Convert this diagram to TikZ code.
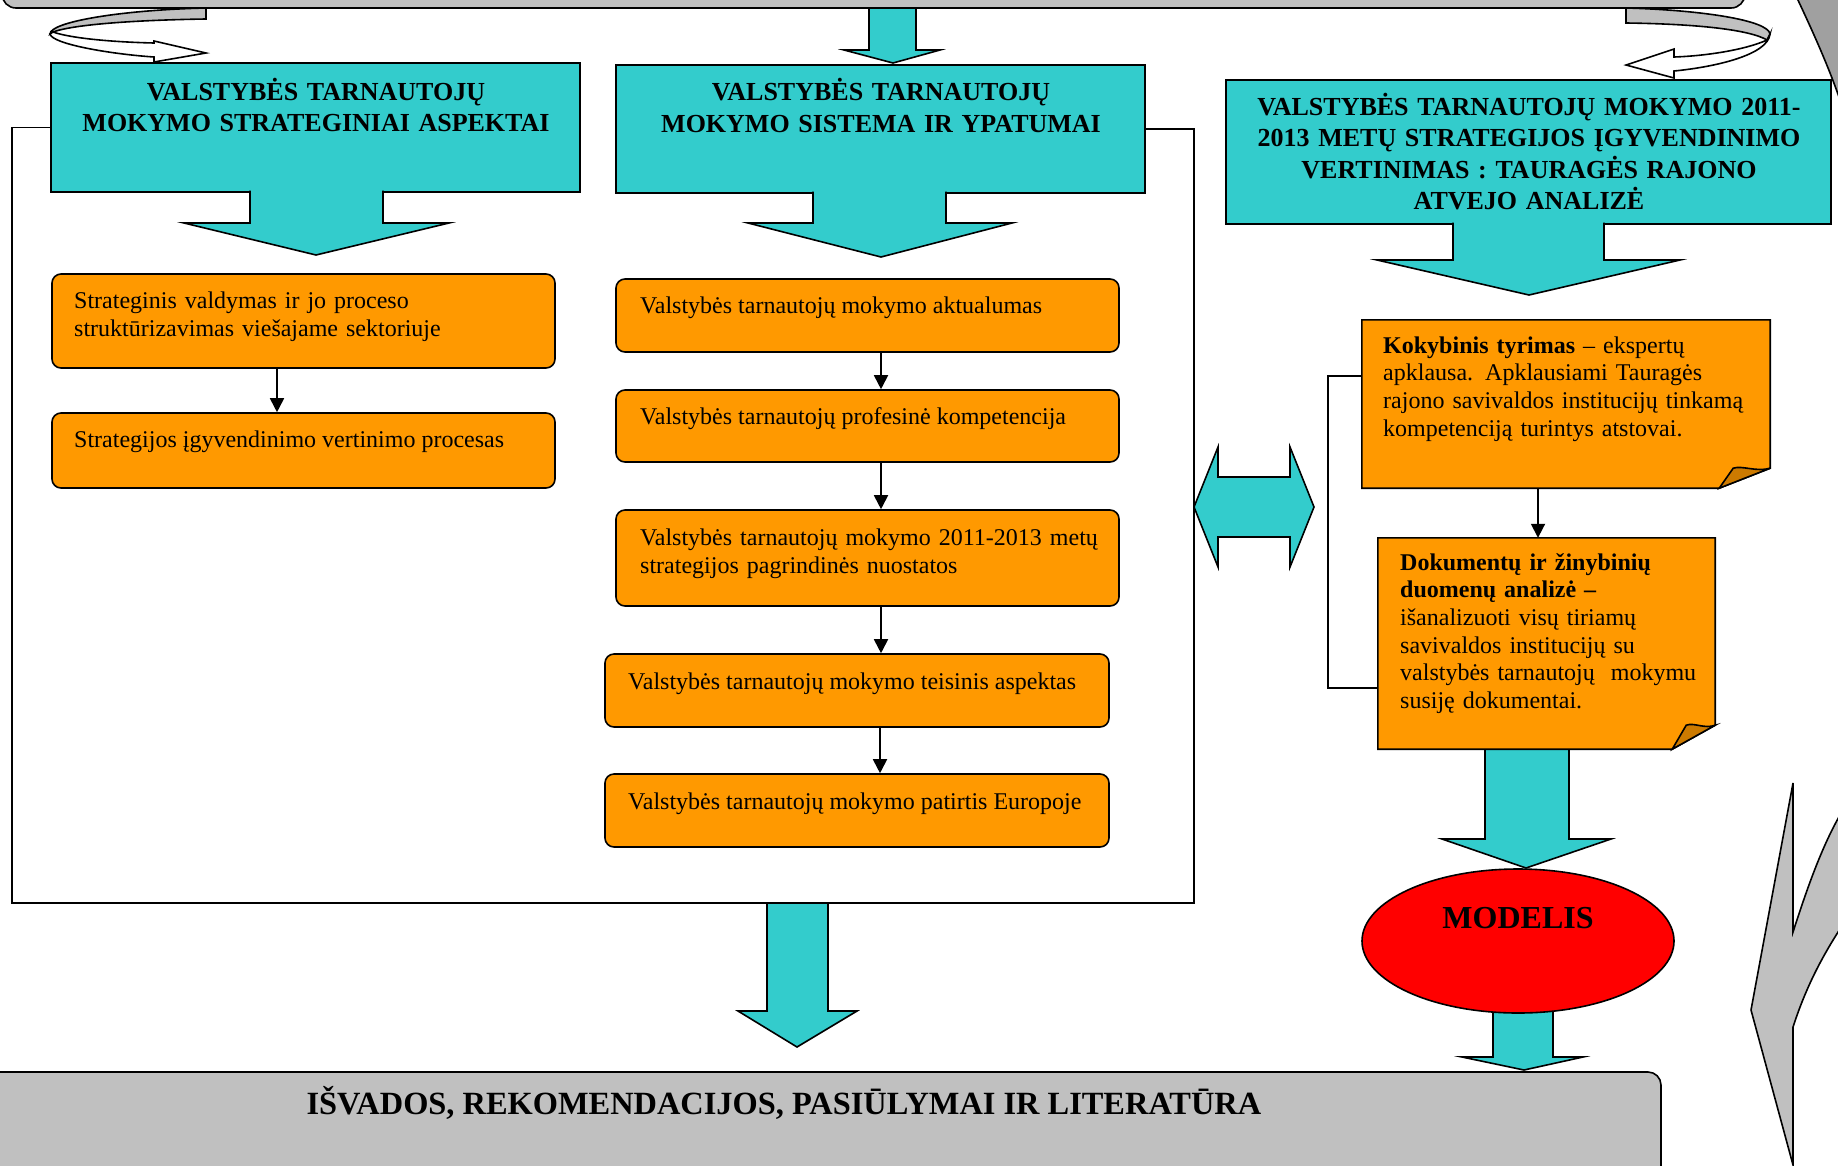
\documentclass[tikz,border=0pt]{standalone}
\usepackage{fontspec}
\setmainfont{Liberation Serif}
\usetikzlibrary{shapes.geometric,arrows.meta}
\definecolor{cy}{RGB}{51,204,204}
\definecolor{org}{RGB}{255,153,0}
\definecolor{fold}{RGB}{204,122,0}
\definecolor{gr}{RGB}{192,192,192}
\definecolor{grd}{RGB}{160,160,160}
\newcommand{\bdarrow}[8]{%
 \fill[cy] (#1,#5) -- (#1,#6) -- (#3,#6) -- (#7,#8) -- (#4,#6) -- (#2,#6) -- (#2,#5) -- cycle;
 \draw[ol] (#1,#5) -- (#1,#6) -- (#3,#6) -- (#7,#8) -- (#4,#6) -- (#2,#6) -- (#2,#5);}
\begin{document}
\begin{tikzpicture}[x=1pt,y=-1pt,line join=miter,
  ol/.style={draw=black,line width=1.6pt},
  hbox/.style={draw=black,line width=1.6pt,fill=cy,inner sep=0pt},
  htext/.style={font=\bfseries\fontsize{26}{31.5}\selectfont,align=center,inner sep=0pt,anchor=base},
  obox/.style={draw=black,line width=1.6pt,fill=org,rounded corners=9pt,inner sep=0pt},
  otext/.style={font=\fontsize{24}{28.5}\selectfont,align=left,inner sep=0pt,anchor=base west},
  ntext/.style={font=\fontsize{24}{27.7}\selectfont,align=left,inner sep=0pt,anchor=base west},
  conn/.style={draw=black,line width=1.8pt,-{Triangle[width=14pt,length=14pt]}},
  bline/.style={draw=black,line width=1.4pt},
  plain/.style={inner sep=0pt},
]
\useasboundingbox (0,0) rectangle (1838,1165);
\fill[white] (0,0) rectangle (1838,1165);

% top centre arrow (from bar)
\bdarrow{869}{916}{844}{940}{0}{50}{893}{63}
% top bar
\node[draw=black,line width=1.6pt,fill=gr,rounded corners=14pt,minimum width=1743pt,minimum height=68pt,plain] (topbar) at (873.5,-26) {};

% left ribbon arrow
\filldraw[fill=gr,ol] (206,8) -- (206,19) .. controls (140,20) and (75,24) .. (53,32) -- (50,34) .. controls (50,22) and (120,10) .. (206,8) -- cycle;
\filldraw[fill=white,ol] (53,32) .. controls (70,38) and (110,42) .. (154,43) -- (154,41) -- (206,53) -- (154,62) -- (154,57) .. controls (110,54) and (52,44) .. (50,34) -- cycle;
% right ribbon arrow
\filldraw[fill=gr,ol] (1626,8) -- (1626,23) .. controls (1700,24) and (1750,30) .. (1767,40) -- (1770,34) .. controls (1768,20) and (1700,10) .. (1626,8) -- cycle;
\filldraw[fill=white,ol] (1767,40) .. controls (1745,50) and (1705,56) .. (1674,57) -- (1674,49) -- (1626,65) -- (1674,78) -- (1674,71) .. controls (1715,67) and (1768,55) .. (1770,34) -- cycle;

% big gray arc (top right)
\filldraw[fill=grd,ol] (1797,-2) .. controls (1812,30) and (1828,65) .. (1840,100) -- (1840,-2) -- cycle;

% header boxes
\node[hbox,minimum width=529pt,minimum height=129pt] (h1) at (315.5,127.5) {};
\node[htext,text width=528pt] (h1t) at (316,100) {VALSTYBĖS TARNAUTOJŲ\\MOKYMO STRATEGINIAI ASPEKTAI};
\bdarrow{250}{383}{184}{449}{190.5}{223}{316}{255}

\node[hbox,minimum width=529pt,minimum height=128pt] (h2) at (880.5,129) {};
\node[htext,text width=528pt] (h2t) at (881,100.5) {VALSTYBĖS TARNAUTOJŲ\\MOKYMO SISTEMA IR YPATUMAI};
\bdarrow{813}{946}{748}{1012}{191.5}{223}{881}{257}

\node[hbox,minimum width=605pt,minimum height=144pt] (h3) at (1528.5,152) {};
\node[htext,text width=600pt] (h3t) at (1529,115) {VALSTYBĖS TARNAUTOJŲ MOKYMO 2011-\\2013 METŲ STRATEGIJOS ĮGYVENDINIMO\\VERTINIMAS : TAURAGĖS RAJONO\\ATVEJO ANALIZĖ};
\bdarrow{1453}{1604}{1377}{1680}{222.5}{260}{1529}{295}

% column 1
\node[obox,minimum width=503pt,minimum height=94pt] (a) at (303.5,321) {};
\node[otext,text width=480pt] (at) at (74,308) {Strateginis valdymas ir jo proceso\\struktūrizavimas viešajame sektoriuje};
\node[obox,minimum width=503pt,minimum height=75pt] (b) at (303.5,450.5) {};
\node[otext] (bt) at (74,447) {Strategijos įgyvendinimo vertinimo procesas};
\draw[conn] ([xshift=-26.5pt]a.south) -- ([xshift=-26.5pt]b.north);

% column 2
\node[obox,minimum width=503pt,minimum height=73pt] (c) at (867.5,315.5) {};
\node[otext] (ct) at (640,313) {Valstybės tarnautojų mokymo aktualumas};
\node[obox,minimum width=503pt,minimum height=72pt] (d) at (867.5,426) {};
\node[otext] (dt) at (640,424) {Valstybės tarnautojų profesinė kompetencija};
\node[obox,minimum width=503pt,minimum height=96pt] (e) at (867.5,558) {};
\node[otext,text width=480pt] (et) at (640,545) {Valstybės tarnautojų mokymo 2011-2013 metų\\strategijos pagrindinės nuostatos};
\node[obox,minimum width=504pt,minimum height=73pt] (f) at (857,690.5) {};
\node[otext] (ft) at (628,689) {Valstybės tarnautojų mokymo teisinis aspektas};
\node[obox,minimum width=504pt,minimum height=73pt] (g) at (857,810.5) {};
\node[otext] (gt) at (628,809) {Valstybės tarnautojų mokymo patirtis Europoje};
\draw[conn] ([xshift=13.5pt]c.south) -- ([xshift=13.5pt]d.north);
\draw[conn] ([xshift=13.5pt]d.south) -- ([xshift=13.5pt]e.north);
\draw[conn] ([xshift=13.5pt]e.south) -- ([xshift=24pt]f.north);
\draw[conn] ([xshift=23pt]f.south) -- ([xshift=23pt]g.north);

% bracket round columns 1-2 and its arrow
\bdarrow{767}{828}{738}{857}{903}{1011}{797}{1047}
\coordinate (bl) at (12,903);
\coordinate (br) at (1194,903);
\draw[bline] (h1.west) -| (bl) -- (br) |- (h2.east);

% double arrow
\filldraw[fill=cy,ol] (1194,507) -- (1218,447) -- (1218,477) -- (1290,477) -- (1290,447) -- (1314,507) -- (1290,567) -- (1290,537) -- (1218,537) -- (1218,567) -- cycle;

% arrow note I -> model
\bdarrow{1485}{1569}{1442}{1611}{745}{839}{1526}{868}

% note H
\node[plain,minimum width=408pt,minimum height=168pt] (nh) at (1566,404) {};
\filldraw[fill=org,ol] (nh.north west) -- (nh.north east) -- ([yshift=20pt]nh.south east) -- ([xshift=-51pt]nh.south east) -- (nh.south west) -- cycle;
\filldraw[fill=fold,ol] ([xshift=-51pt]nh.south east) -- ([xshift=-37pt,yshift=20pt]nh.south east) .. controls ([xshift=-28pt,yshift=23pt]nh.south east) and ([xshift=-14pt,yshift=16pt]nh.south east) .. ([yshift=20pt]nh.south east) -- cycle;
\node[ntext,text width=385pt] (nht) at (1383,353) {\textbf{Kokybinis tyrimas} – ekspertų\\apklausa. Apklausiami Tauragės\\rajono savivaldos institucijų tinkamą\\kompetenciją turintys atstovai.};

% note I
\node[plain,minimum width=337pt,minimum height=211pt] (ni) at (1546.5,643.5) {};
\filldraw[fill=org,ol] (ni.north west) -- (ni.north east) -- ([yshift=24pt]ni.south east) -- ([xshift=-43pt]ni.south east) -- (ni.south west) -- cycle;
\filldraw[fill=fold,ol] ([xshift=-43pt]ni.south east) -- ([xshift=-29pt,yshift=24pt]ni.south east) .. controls ([xshift=-21pt,yshift=27pt]ni.south east) and ([xshift=-11pt,yshift=20pt]ni.south east) .. ([yshift=24pt]ni.south east) -- cycle;
\node[ntext,text width=312pt] (nit) at (1400,570) {\textbf{Dokumentų ir žinybinių}\\\textbf{duomenų analizė –}\\išanalizuoti visų tiriamų\\savivaldos institucijų su\\valstybės tarnautojų\ \ mokymu\\susiję dokumentai.};

\draw[conn] ([xshift=-28pt]nh.south) -- ([xshift=-8.5pt]ni.north);
\draw[bline] ([yshift=28pt]nh.west) -- ++(-34,0) |- ([yshift=-44.5pt]ni.west);

% model -> bottom bar
\bdarrow{1493}{1553}{1462}{1583}{1005}{1057}{1524}{1070}
\node[draw=black,line width=1.6pt,fill=red,ellipse,minimum width=312pt,minimum height=144pt,plain] (mod) at (1518,941) {};
\node[font=\bfseries\fontsize{32}{36}\selectfont,plain,anchor=base] (modt) at (1518,928) {MODELIS};

% bottom bar
\node[draw=black,line width=1.6pt,fill=gr,rounded corners=13pt,minimum width=1691pt,minimum height=148pt,plain] (bot) at (815.5,1146) {};
\node[font=\bfseries\fontsize{32.4}{36}\selectfont,plain,anchor=base] (bott) at (784,1114) {IŠVADOS, REKOMENDACIJOS, PASIŪLYMAI IR LITERATŪRA};

% big gray arrow head (bottom right)
\filldraw[fill=gr,ol] (1793,783) -- (1793,932) .. controls (1805,895) and (1820,850) .. (1840,815) -- (1840,929) .. controls (1820,960) and (1805,990) .. (1793,1027) -- (1793,1165) -- (1751,1010) -- cycle;
\end{tikzpicture}
\end{document}
